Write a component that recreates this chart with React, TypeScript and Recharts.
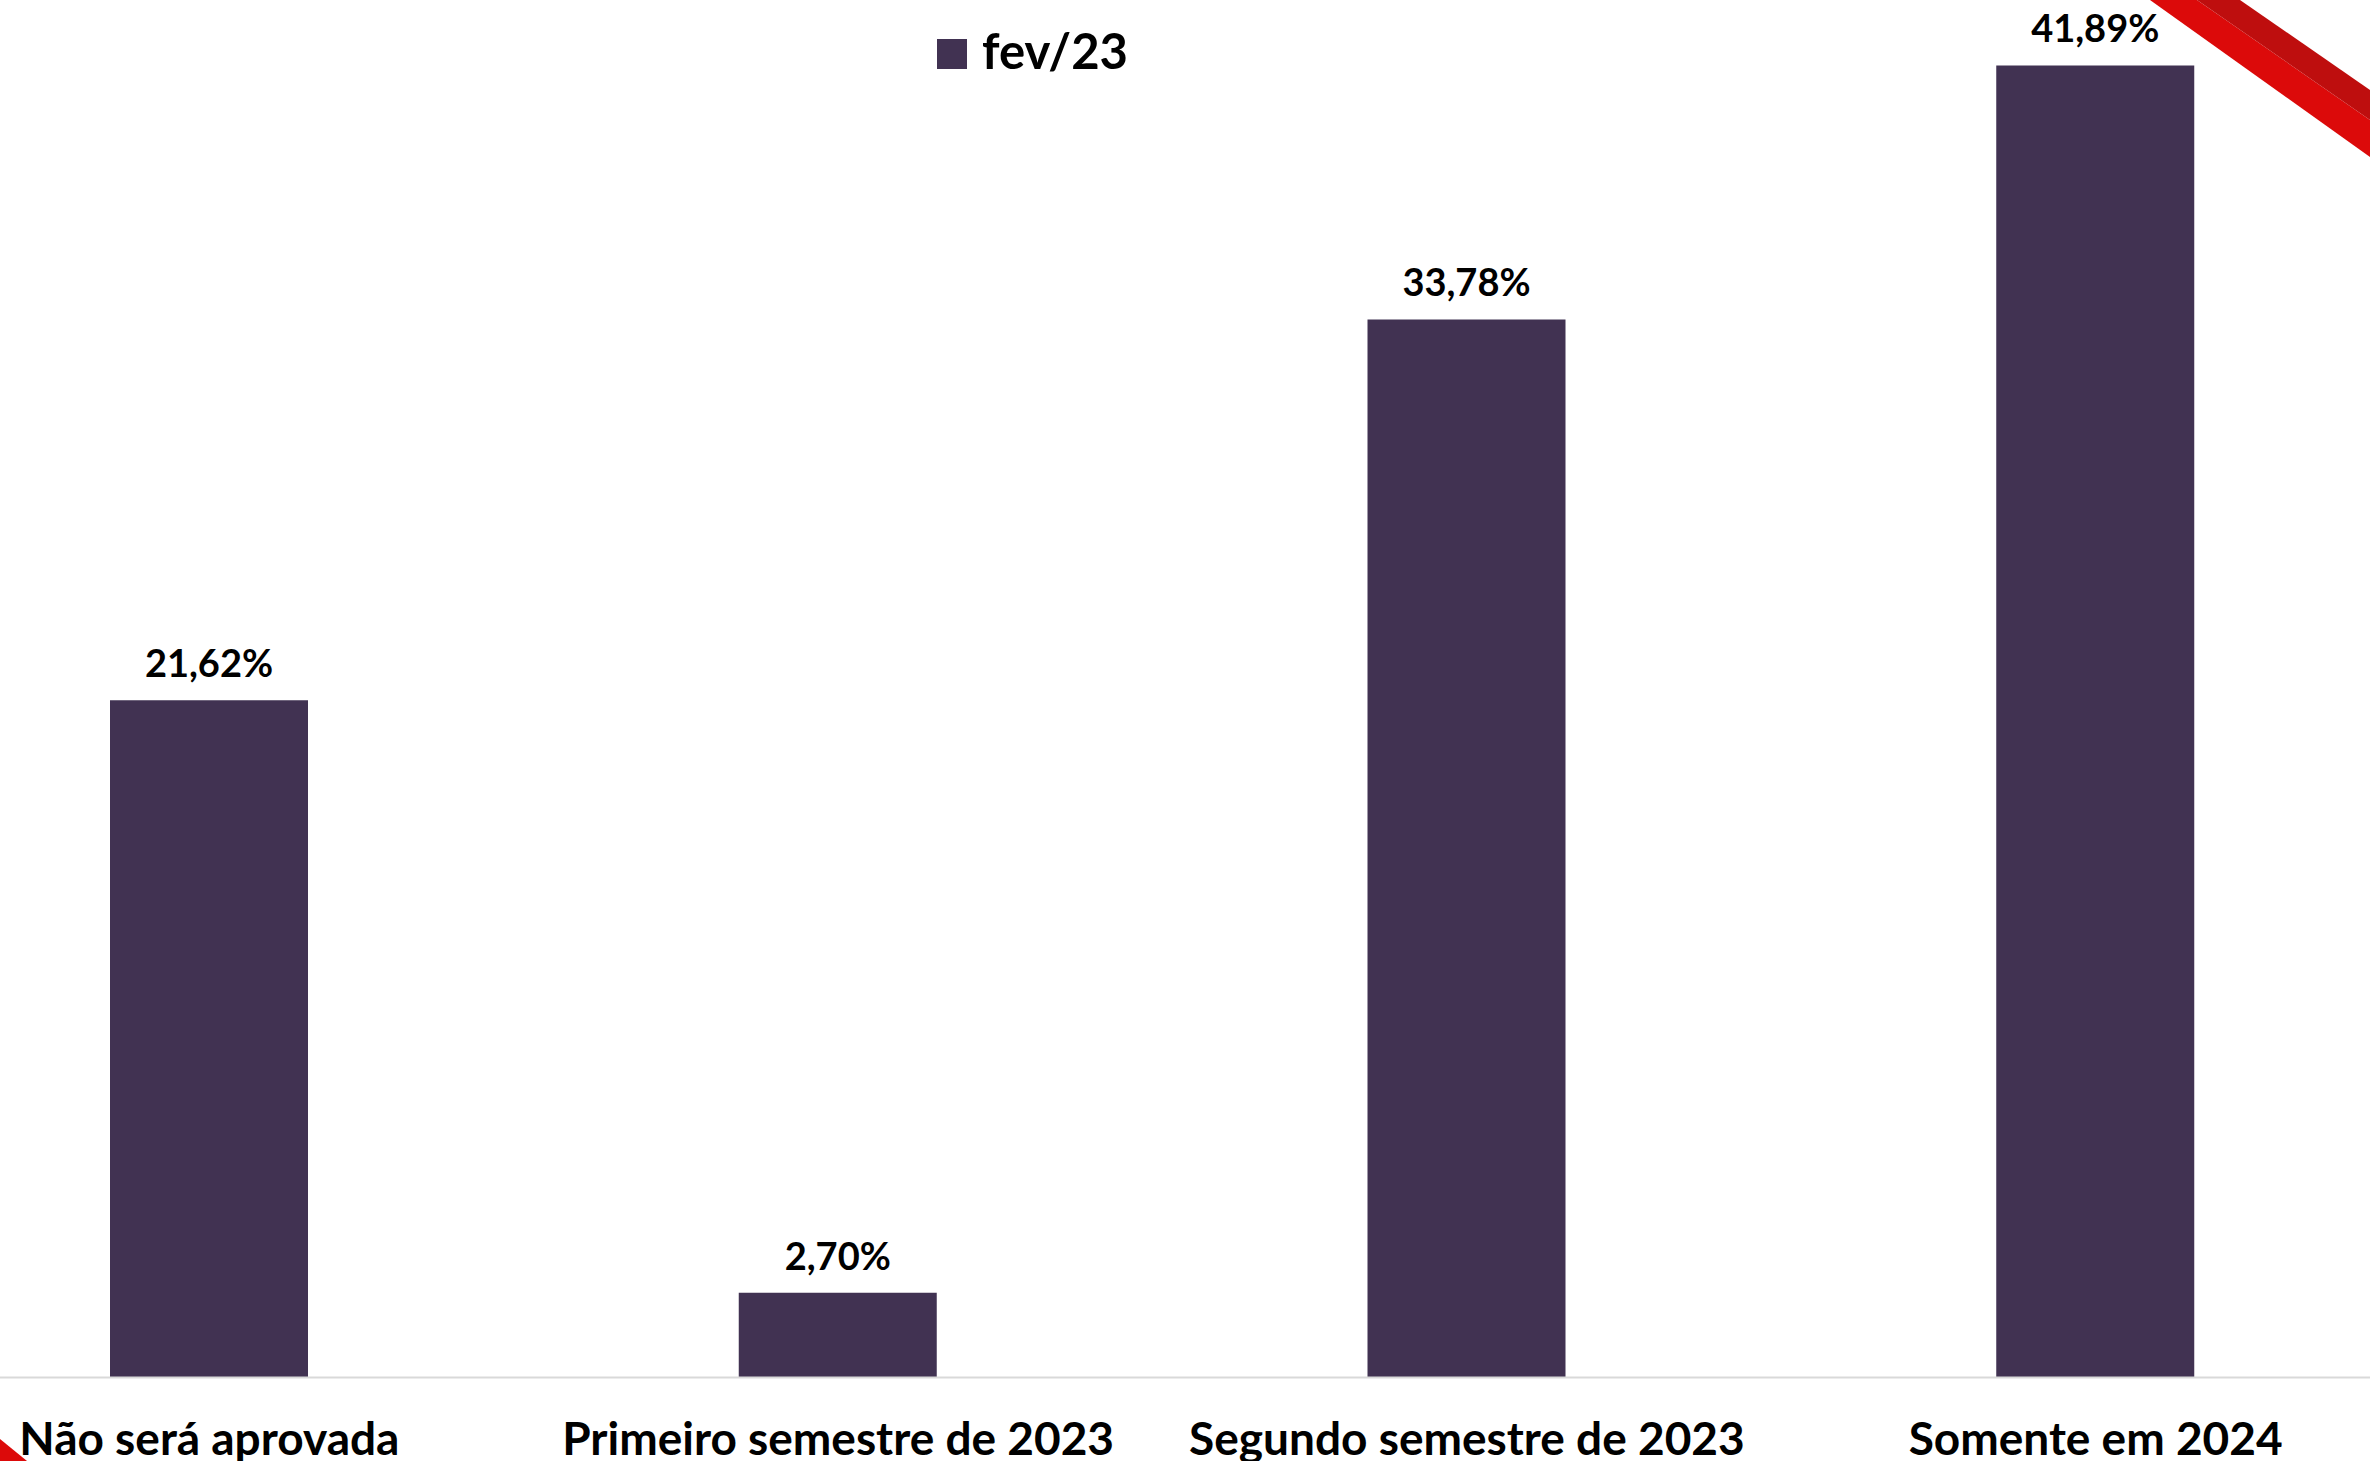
import React from 'react';
import { BarChart, Bar, XAxis, YAxis, LabelList, Legend } from 'recharts';

const categories = ['Não será aprovada', 'Primeiro semestre de 2023', 'Segundo semestre de 2023', 'Somente em 2024'];
const fev23 = [21.62, 2.7, 33.78, 41.89];
const seriesName = 'fev/23';
const yDomain: [number, number] = [0, 45];

const data = categories.map((c, i) => ({ category: c, value: fev23[i] }));

const BAR_COLOR = '#413252';
const FONT = 'Lato, "Open Sans", sans-serif';

const OFFSET_LEFT = -105.3;
const OFFSET_TOP = -32.4;
const LEGEND_H = 90;

const fmt = (v: any) => Number(v).toFixed(2).replace('.', ',') + '%';

const LegendContent = () => (
  <svg width={320} height={LEGEND_H} style={{ display: 'block', overflow: 'visible' }}>
    <rect x={0} y={39} width={30} height={30} fill={BAR_COLOR} />
    <text x={45} y={69} fontSize={49} fontWeight={700} fill="#000" fontFamily={FONT}>
      {seriesName}
    </text>
  </svg>
);

export default function App() {
  return (
    <div style={{ position: 'fixed', left: 0, top: 0, width: 2370, height: 1461, overflow: 'hidden', background: '#fff' }}>
      <div style={{ position: 'absolute', left: OFFSET_LEFT, top: OFFSET_TOP }}>
        <BarChart
          width={2515}
          height={1500 + LEGEND_H}
          data={data}
          margin={{ top: 0, right: 0, bottom: 0, left: 0 }}
          style={{ fontFamily: FONT }}
        >
          <XAxis
            dataKey="category"
            height={90.6}
            tickLine={false}
            tickSize={0}
            tickMargin={45}
            axisLine={{ stroke: '#D9D9D9', strokeWidth: 2 }}
            tick={{ fontSize: 46, fontWeight: 700, fill: '#000', fontFamily: FONT }}
            interval={0}
          />
          <YAxis hide domain={yDomain} />
          <Legend
            content={LegendContent}
            wrapperStyle={{ position: 'absolute', left: 937 - OFFSET_LEFT, top: -OFFSET_TOP, width: 320, height: LEGEND_H }}
          />
          <Bar dataKey="value" name={seriesName} fill={BAR_COLOR} barSize={198} isAnimationActive={false}>
            <LabelList
              dataKey="value"
              position="top"
              offset={23}
              formatter={fmt}
              style={{ fontSize: 38, fontWeight: 700, fill: '#000', fontFamily: FONT }}
            />
          </Bar>
        </BarChart>
      </div>
      <svg width={2370} height={1461} style={{ position: 'absolute', left: 0, top: 0, pointerEvents: 'none' }}>
        <polygon points="2150,0 2370,157 2370,120 2197,0" fill="#DC0A0A" />
        <polygon points="2197,0 2370,120 2370,90 2240,0" fill="#BE0E0E" />
        <polygon points="0,1439 27,1461 0,1461" fill="#DC0A0A" />
      </svg>
    </div>
  );
}
